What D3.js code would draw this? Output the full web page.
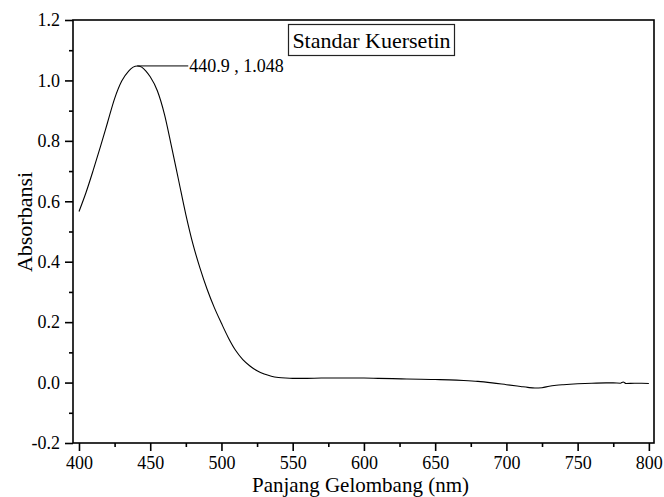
<!DOCTYPE html>
<html><head><meta charset="utf-8">
<script src="https://cdn.jsdelivr.net/npm/d3@7"></script>
<style>body{margin:0;background:#fff;} svg{display:block;}</style>
</head><body><svg id="c" width="664" height="497"></svg>
<script>
const wavelength = [400,405,410,415,420,425,430,435,438,441,444,447,450,455,460,465,470,475,480,485,490,495,500,505,510,515,520,525,530,535,540,545,550,560,570,580,590,600,610,620,630,640,650,660,670,680,690,700,710,715,720,725,730,735,740,750,760,770,775,780,782,784,790,795,800];
const absorbance = [0.566,0.630,0.703,0.780,0.860,0.940,0.998,1.032,1.044,1.048,1.044,1.031,1.012,0.966,0.888,0.780,0.668,0.556,0.458,0.378,0.308,0.248,0.196,0.147,0.106,0.076,0.055,0.039,0.028,0.021,0.017,0.015,0.014,0.014,0.015,0.015,0.015,0.015,0.014,0.013,0.012,0.011,0.010,0.009,0.007,0.004,-0.001,-0.007,-0.013,-0.016,-0.018,-0.017,-0.012,-0.009,-0.007,-0.004,-0.002,-0.001,-0.001,-0.002,0.002,-0.003,-0.002,-0.002,-0.003];
const xTicks = [400,450,500,550,600,650,700,750,800];
const yTicks = [-0.2,0.0,0.2,0.4,0.6,0.8,1.0,1.2];
const peakLabel = "440.9 , 1.048";
const peak = [440.9, 1.048];
const title = "Standar Kuersetin";
const xTitle = "Panjang Gelombang (nm)";
const yTitle = "Absorbansi";

const FONT = "'Liberation Serif', 'Times New Roman', serif";
const svg = d3.select("#c");
const L = 73, R = 654, T = 20, B = 443;
const x = d3.scaleLinear().domain([395.8, 803.6]).range([L, R]);
const y = d3.scaleLinear().domain([-0.2, 1.2]).range([B, T]);

// frame
svg.append("rect").attr("x",L).attr("y",T).attr("width",R-L).attr("height",B-T)
  .attr("fill","none").attr("stroke","#000").attr("stroke-width",1.6);

// minor ticks
const xMinor = d3.range(425, 800, 50);
const yMinor = d3.range(-0.1, 1.2, 0.2);
svg.append("g").attr("transform",`translate(0,${B})`)
  .call(d3.axisBottom(x).tickValues(xMinor).tickSize(4).tickFormat(""))
  .call(g=>{g.select(".domain").remove(); g.selectAll("line").attr("stroke-width",1.6);});
svg.append("g").attr("transform",`translate(${L},0)`)
  .call(d3.axisLeft(y).tickValues(yMinor).tickSize(4).tickFormat(""))
  .call(g=>{g.select(".domain").remove(); g.selectAll("line").attr("stroke-width",1.6);});

const yFmt = d => d3.format(".1f")(d).replace("\u2212","-");
// major ticks
svg.append("g").attr("transform",`translate(0,${B})`)
  .call(d3.axisBottom(x).tickValues(xTicks).tickSize(8).tickPadding(5).tickFormat(d3.format("d")))
  .call(g=>{g.select(".domain").remove(); g.selectAll("line").attr("stroke-width",1.6);
    g.selectAll("text").style("font-size","18px").style("font-family",FONT).attr("fill","#000");});
svg.append("g").attr("transform",`translate(${L},0)`)
  .call(d3.axisLeft(y).tickValues(yTicks).tickSize(8).tickPadding(5).tickFormat(yFmt))
  .call(g=>{g.select(".domain").remove(); g.selectAll("line").attr("stroke-width",1.6);
    g.selectAll("text").style("font-size","18px").style("font-family",FONT).attr("fill","#000");});

// curve
const line = d3.line().x((d,i)=>x(wavelength[i])).y(d=>y(d)).curve(d3.curveMonotoneX);
svg.append("path").datum(absorbance).attr("d",line)
  .attr("fill","none").attr("stroke","#000").attr("stroke-width",1.1);

// peak annotation
svg.append("line").attr("x1",x(peak[0])).attr("x2",x(peak[0])+51)
  .attr("y1",y(peak[1])).attr("y2",y(peak[1])).attr("stroke","#000").attr("stroke-width",1);
svg.append("text").attr("x",x(peak[0])+52).attr("y",y(peak[1])+6)
  .style("font-size","18px").style("font-family",FONT).text(peakLabel);

// title box
svg.append("rect").attr("x",288.5).attr("y",24.5).attr("width",166).attr("height",31)
  .attr("fill","#fff").attr("stroke","#222").attr("stroke-width",1.2);
svg.append("text").attr("x",371.5).attr("y",48).attr("text-anchor","middle")
  .style("font-size","22px").style("font-family",FONT).text(title);

// axis titles
svg.append("text").attr("x",(L+R)/2 - 3).attr("y",492).attr("text-anchor","middle")
  .style("font-size","21px").style("font-family",FONT).text(xTitle);
svg.append("text").attr("transform","translate(32,222) rotate(-90)").attr("text-anchor","middle")
  .style("font-size","22px").style("font-family",FONT).text(yTitle);
</script></body></html>
